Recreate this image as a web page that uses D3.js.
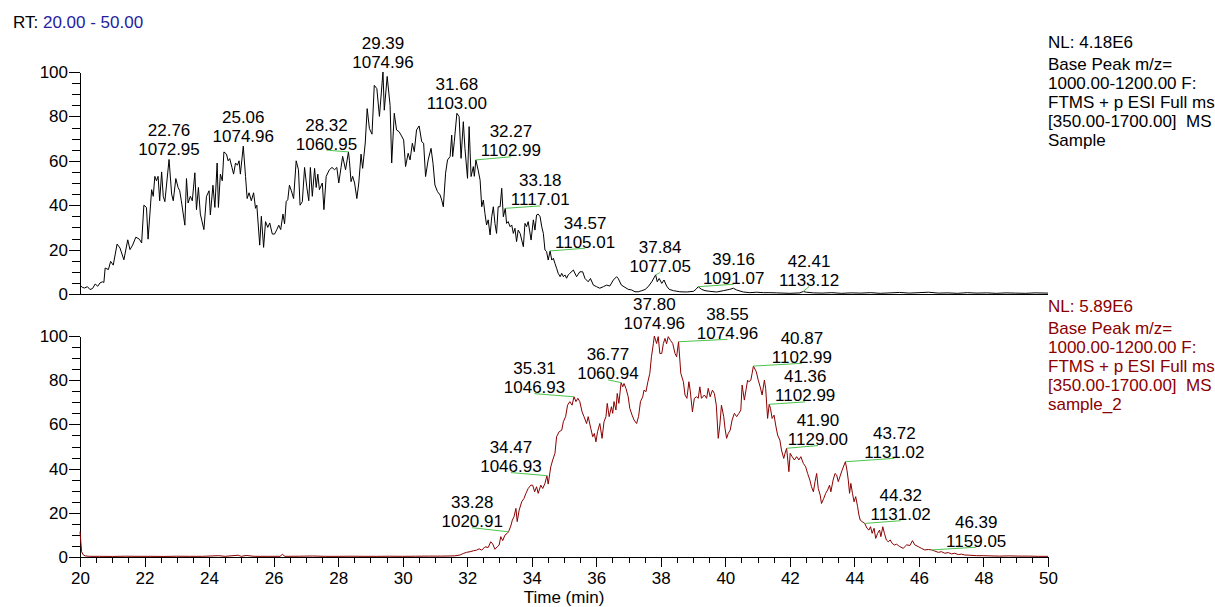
<!DOCTYPE html>
<html>
<head>
<meta charset="utf-8">
<script src="https://cdn.jsdelivr.net/npm/d3@7"></script>
<style>
  html, body { margin: 0; padding: 0; background: #fff; }
  svg { display: block; font-family: "Liberation Sans", Arial, Helvetica, sans-serif; }
  .pre { white-space: pre; }
</style>
</head>
<body>
<svg id="chart" width="1215" height="607"></svg>
<script>
// ---- data -------------------------------------------------------------
const rtRange = [20, 50];
const xMajorTicks = [20, 22, 24, 26, 28, 30, 32, 34, 36, 38, 40, 42, 44, 46, 48, 50];
const yMajorTicks = [0, 20, 40, 60, 80, 100];

// Base peak chromatogram, "Sample": [retention time (min), relative abundance]
const traceSample = [
  [20.00,4],[20.07,3],[20.14,2.7],[20.23,3.3],[20.31,2],[20.39,2.5],[20.47,4.5],[20.55,3.5],
  [20.62,5],[20.70,5.5],[20.74,5.2],[20.78,11.7],[20.88,11],[20.95,14.7],[21.03,13],[21.15,22.5],
  [21.24,20.7],[21.36,15.4],[21.48,24.4],[21.55,20],[21.63,22],[21.73,25.6],[21.84,24.7],[21.91,23],
  [21.98,40],[22.06,39],[22.11,24.7],[22.22,47],[22.27,44],[22.32,53],[22.37,51],[22.42,53],
  [22.47,42],[22.53,55],[22.58,44],[22.63,41.6],[22.76,60.6],[22.84,45],[22.89,42],[22.97,52],
  [23.04,48],[23.09,46.5],[23.14,42],[23.25,31],[23.30,52],[23.35,41],[23.42,44],[23.48,42],
  [23.56,54.6],[23.61,38],[23.67,48],[23.73,36],[23.84,29],[23.92,44],[24.00,46.5],[24.04,35.6],
  [24.12,49],[24.18,39],[24.25,59],[24.29,39],[24.35,54],[24.41,51],[24.46,64],[24.54,63],
  [24.59,60],[24.64,61],[24.71,57],[24.76,54],[24.82,59],[24.88,58],[24.93,60],[24.97,54],
  [25.06,66.6],[25.13,53],[25.18,43],[25.24,45.6],[25.31,42],[25.38,45.6],[25.44,38.6],[25.48,40],
  [25.57,22],[25.62,35],[25.69,21],[25.75,32.6],[25.82,30],[25.88,32],[25.96,27],[26.03,27],
  [26.10,29],[26.16,31],[26.22,29],[26.29,36],[26.34,31.6],[26.39,41.6],[26.44,42.5],[26.49,49],
  [26.55,46.5],[26.62,43],[26.70,60],[26.77,56],[26.82,40],[26.89,41.6],[26.96,57],[27.03,48],
  [27.09,42],[27.14,57],[27.20,44],[27.27,56.6],[27.32,48],[27.37,54],[27.42,47],[27.51,50],
  [27.56,38],[27.63,53],[27.73,56],[27.81,57],[27.89,56],[27.96,57],[28.02,50],[28.09,57],
  [28.14,62],[28.23,56],[28.32,64],[28.35,60],[28.40,50.6],[28.45,53],[28.51,50],[28.58,43],
  [28.64,50],[28.71,63],[28.76,56.6],[28.84,68],[28.90,83.5],[28.97,74.5],[29.05,72],[29.12,94],
  [29.20,92.5],[29.28,80],[29.39,100],[29.43,82.8],[29.52,98],[29.61,85],[29.66,59],[29.74,81.4],
  [29.81,73.9],[29.89,73.1],[29.95,71.6],[30.03,69.4],[30.09,57.4],[30.17,63.4],[30.23,60.4],[30.30,67.9],
  [30.36,64.1],[30.43,73.9],[30.51,75.7],[30.59,68.6],[30.65,67.9],[30.71,52.9],[30.79,60.4],[30.88,65.6],
  [30.94,58.9],[31.00,49.1],[31.08,46.1],[31.16,44.6],[31.21,42.3],[31.26,39.3],[31.33,54.4],[31.39,60.4],
  [31.47,61.9],[31.52,71.6],[31.55,61.9],[31.60,68.6],[31.68,81.4],[31.75,79.9],[31.81,61.1],[31.88,77.6],
  [31.93,65.6],[32.01,52.1],[32.06,75.4],[32.12,52.9],[32.19,57.4],[32.22,53],[32.27,60.4],[32.34,55.8],
  [32.40,51.3],[32.45,39.3],[32.50,42.3],[32.55,36.3],[32.60,31.1],[32.65,33.4],[32.71,26.6],[32.76,34.8],
  [32.81,39.3],[32.86,31.8],[32.91,27.3],[32.96,39.3],[33.02,39.3],[33.07,47.6],[33.12,34.8],[33.18,38.6],
  [33.22,31.8],[33.27,32.6],[33.33,30.3],[33.38,31.1],[33.43,27.3],[33.48,29.6],[33.53,23.6],[33.58,28.8],
  [33.64,27.3],[33.69,24.3],[33.74,21.3],[33.79,31.8],[33.84,30.3],[33.89,32.6],[33.98,24.3],[34.05,33.4],
  [34.10,28.8],[34.15,35.6],[34.20,36],[34.26,34.8],[34.31,30.3],[34.36,27.3],[34.41,19.8],[34.46,19.1],
  [34.51,15.3],[34.57,19.4],[34.62,15.3],[34.67,16.1],[34.72,13.8],[34.77,11.6],[34.82,9.3],[34.88,7.8],
  [34.93,9.3],[34.98,7.8],[35.03,8.6],[35.08,7.1],[35.13,8.6],[35.18,9.3],[35.29,10.8],[35.39,7.8],
  [35.49,10],[35.58,10],[35.65,7],[35.75,5.5],[35.82,7],[35.91,4],[36.01,3.3],[36.11,2.6],
  [36.22,3.3],[36.32,4],[36.42,3.6],[36.53,6.3],[36.63,7.8],[36.68,7],[36.78,4],[36.89,3],
  [36.99,2.1],[37.10,1.8],[37.20,1],[37.30,1],[37.41,1.5],[37.51,2],[37.61,3.3],[37.72,5.5],
  [37.84,8.6],[37.89,5.5],[37.95,7],[38.03,4.8],[38.10,6.3],[38.18,3.6],[38.26,2.1],[38.39,1.5],
  [38.59,1],[38.80,0.9],[39.01,1.2],[39.09,2.1],[39.16,3.3],[39.26,2.1],[39.37,1.5],[39.52,1.2],
  [39.73,0.9],[39.94,1.5],[40.14,2.1],[40.25,2.6],[40.35,1.8],[40.56,0.9],[40.76,0.6],[40.97,0.8],
  [41.18,0.6],[41.38,0.6],[41.59,0.5],[42.00,0.3],[42.31,0.5],[42.41,1.1],[42.52,0.8],[42.73,0.5],
  [43.00,0.4],[43.30,0.6],[43.60,0.3],[43.90,0.5],[44.20,0.4],[44.50,0.6],[44.80,0.3],[45.10,0.5],
  [45.40,0.7],[45.70,0.4],[46.00,0.6],[46.30,0.8],[46.60,0.4],[46.90,0.5],[47.20,0.3],[47.50,0.6],
  [47.80,0.4],[48.10,0.5],[48.40,0.3],[48.70,0.5],[49.00,0.4],[49.30,0.3],[49.60,0.5],[50.00,0.4]
];

// Base peak chromatogram, "sample_2": [retention time (min), relative abundance]
const traceSample2 = [
  [20.00,11.4],[20.05,2.4],[20.10,1],[20.16,0.5],[20.30,0.3],[20.60,0.3],[21.00,0.25],[21.40,0.35],
  [21.80,0.3],[22.20,0.3],[22.60,0.25],[23.00,0.35],[23.40,0.3],[23.80,0.3],[24.30,0.6],[24.50,0.3],
  [24.90,0.8],[25.00,0.3],[25.15,0.7],[25.40,0.3],[25.80,0.3],[26.20,0.3],[26.27,1.2],[26.35,0.3],
  [26.80,0.35],[27.20,0.45],[27.60,0.3],[28.00,0.3],[28.40,0.35],[28.80,0.3],[29.20,0.3],[29.60,0.35],
  [30.00,0.3],[30.40,0.35],[30.80,0.4],[31.20,0.4],[31.60,0.5],[31.78,0.9],[31.88,1.6],[31.98,2.1],
  [32.09,2.4],[32.19,2.8],[32.29,3.1],[32.37,3.7],[32.45,3.1],[32.55,4.6],[32.65,4.3],[32.73,6.9],
  [32.79,5.9],[32.86,3.5],[32.93,4.6],[32.99,5.4],[33.04,9.2],[33.10,7.4],[33.17,9.9],[33.24,10.7],
  [33.28,11.4],[33.35,14],[33.40,16.7],[33.45,18.2],[33.51,22],[33.55,16],[33.61,21.2],[33.69,25],
  [33.76,26.5],[33.82,28.8],[33.89,31],[33.97,32.5],[34.03,32.5],[34.09,29.5],[34.15,31.8],[34.20,28.8],
  [34.28,32.5],[34.34,31],[34.41,33.3],[34.47,36.8],[34.51,33],[34.59,40.8],[34.65,43.9],[34.72,46.9],
  [34.77,54.4],[34.85,56.7],[34.93,57.4],[34.98,61.2],[35.05,63.5],[35.11,68.7],[35.18,70.3],[35.25,68.7],
  [35.31,72.5],[35.37,70.3],[35.43,71.8],[35.49,70.3],[35.56,65.7],[35.62,63.5],[35.70,60.4],[35.75,63.5],
  [35.83,58.2],[35.89,54.4],[35.94,55.9],[35.99,52.1],[36.04,56.7],[36.11,60.4],[36.18,53.7],[36.24,61.2],
  [36.30,63.5],[36.34,69.5],[36.40,63.5],[36.47,68],[36.51,65],[36.55,70.3],[36.61,66.5],[36.65,74],
  [36.70,69.5],[36.77,78.9],[36.82,77],[36.86,78.5],[36.92,76.3],[36.99,72.5],[37.04,67.2],[37.11,64.2],
  [37.17,62],[37.25,60.4],[37.31,63.5],[37.37,70.3],[37.44,72.5],[37.48,75.5],[37.54,74.8],[37.60,79.3],
  [37.66,83.1],[37.71,90.6],[37.77,96.6],[37.80,100],[37.87,96.6],[37.92,99.7],[37.97,92.1],[38.03,92.1],
  [38.08,96.6],[38.13,98.9],[38.18,96.5],[38.23,99.7],[38.30,98],[38.37,96.6],[38.44,92.1],[38.49,90.6],
  [38.55,97.4],[38.62,83.1],[38.70,79.3],[38.75,73.3],[38.81,71.8],[38.87,79.3],[38.91,75.5],[38.98,65.7],
  [39.04,71.8],[39.11,72.5],[39.16,71.8],[39.21,77],[39.26,71.8],[39.35,73.3],[39.42,71.8],[39.47,76.3],
  [39.53,72.5],[39.60,75.5],[39.66,74],[39.72,68.7],[39.78,53.7],[39.83,59.7],[39.88,68.7],[39.95,63.5],
  [39.99,58.2],[40.04,53.7],[40.09,55.9],[40.15,57.4],[40.21,62],[40.28,65],[40.35,63.5],[40.42,65],
  [40.48,66.5],[40.52,77.8],[40.59,71],[40.64,75.5],[40.69,80],[40.73,79.3],[40.79,80],[40.83,83.1],
  [40.87,86.4],[40.96,83.8],[41.02,80],[41.08,77],[41.14,73.3],[41.21,80],[41.25,76.3],[41.31,62.7],
  [41.36,69.1],[41.40,67.2],[41.45,62.7],[41.51,64.2],[41.56,59.7],[41.62,55.2],[41.69,52.9],[41.74,48.4],
  [41.81,44.6],[41.85,46.9],[41.90,49.2],[41.97,38.6],[42.01,46.9],[42.07,45.4],[42.14,43.9],[42.21,45.4],
  [42.28,43.9],[42.34,45.4],[42.42,42.3],[42.49,40.8],[42.55,37.8],[42.62,34.8],[42.67,31.8],[42.73,29.5],
  [42.78,34.1],[42.83,37.8],[42.88,31],[42.94,28],[42.98,24.2],[43.05,26.5],[43.11,28.8],[43.17,30.3],
  [43.23,32.5],[43.27,29.5],[43.34,34.8],[43.40,37.8],[43.45,37.1],[43.50,34.1],[43.55,36.3],[43.62,39.3],
  [43.72,43.1],[43.77,39.3],[43.81,34.8],[43.85,28.8],[43.89,33.3],[43.94,28.8],[43.99,25],[44.04,27.3],
  [44.10,22.7],[44.14,19],[44.18,16.7],[44.24,16],[44.32,15.2],[44.39,13],[44.45,12.2],[44.50,13.7],
  [44.55,10.7],[44.61,13],[44.66,8.4],[44.72,10.7],[44.78,12.2],[44.82,9.2],[44.88,13.7],[44.93,10.7],
  [44.99,7.7],[45.05,6.9],[45.11,7.7],[45.17,6.2],[45.24,5.4],[45.30,5.8],[45.36,5.2],[45.41,4.7],
  [45.51,3.9],[45.62,5.5],[45.72,5.2],[45.80,7.4],[45.87,5.5],[45.98,4.7],[46.08,3.9],[46.18,3.2],
  [46.29,3.4],[46.39,3.2],[46.49,2.7],[46.60,2.1],[46.70,2.4],[46.80,1.7],[46.91,2],[47.01,1.4],
  [47.11,1.7],[47.22,1.1],[47.32,1.3],[47.42,0.9],[47.58,0.8],[47.79,0.6],[47.99,0.6],[48.20,0.5],
  [48.50,0.4],[48.80,0.5],[49.10,0.4],[49.40,0.4],[49.70,0.3],[50.00,0.3]
];

// Labelled peaks: [retention time, base peak m/z]
const peaksSample = [
  [22.76,"1072.95"],[25.06,"1074.96"],[28.32,"1060.95"],[29.39,"1074.96"],[31.68,"1103.00"],
  [32.27,"1102.99"],[33.18,"1117.01"],[34.57,"1105.01"],[37.84,"1077.05"],[39.16,"1091.07"],
  [42.41,"1133.12"]
];
const peaksSample2 = [
  [33.28,"1020.91"],[34.47,"1046.93"],[35.31,"1046.93"],[36.77,"1060.94"],[37.80,"1074.96"],
  [38.55,"1074.96"],[40.87,"1102.99"],[41.36,"1102.99"],[41.90,"1129.00"],[43.72,"1131.02"],
  [44.32,"1131.02"],[46.39,"1159.05"]
];

// Header text for each trace
const infoSample  = ["NL: 4.18E6", "Base Peak m/z=", "1000.00-1200.00 F:", "FTMS + p ESI Full ms", "[350.00-1700.00]  MS", "Sample"];
const infoSample2 = ["NL: 5.89E6", "Base Peak m/z=", "1000.00-1200.00 F:", "FTMS + p ESI Full ms", "[350.00-1700.00]  MS", "sample_2"];

// ---- layout -------------------------------------------------------------
// Label placement: pixel offset of the label (centre x, baseline y) from its peak apex
const labelShiftSample = [
  [0,-4],[0,-4.3],[-22,-2.3],[0,-4.2],[0,-3.9],[35,-3.6],[35,-2.9],[35,-3.2],[4.5,-2.9],[35.4,-2.9],[6,-5.6]
];
const labelShiftSample2 = [
  [-36.3,-4.6],[-36,-3.6],[-39.5,-3.6],[-13.2,-3.3],[0,-6.6],[49,-2.9],[48.5,-3.2],[36,-2.9],[31.3,-3.2],[49,-3.9],[36,-3.2],[44.7,-3.2]
];

const W = 1215, H = 607;
const plotLeft = 80, plotRight = 1048;
const FONT = 17;
const svg = d3.select("#chart");

const x = d3.scaleLinear().domain(rtRange).range([plotLeft, plotRight]);
const minorX = d3.range(rtRange[0], rtRange[1] + 0.001, 0.5).filter(v => Math.abs(v / 2 - Math.round(v / 2)) > 1e-6);
const minorY = d3.range(0, 101, 5).filter(v => v % 20 !== 0);

function drawPanel(cfg) {
  const y = d3.scaleLinear().domain([0, 100]).range([cfg.bottom, cfg.top]);
  const g = svg.append("g");

  // y axis: minor ticks then major ticks with labels
  g.append("g")
    .attr("transform", `translate(${plotLeft},0)`)
    .call(d3.axisLeft(y).tickValues(minorY).tickSize(8).tickFormat(""))
    .call(s => s.select(".domain").remove());
  g.append("g")
    .attr("transform", `translate(${plotLeft},0)`)
    .call(d3.axisLeft(y).tickValues(yMajorTicks).tickSize(11).tickSizeOuter(0).tickPadding(1))
    .call(s => s.selectAll("text").attr("font-size", FONT).attr("fill", "#000").attr("font-family", "Liberation Sans, Arial, sans-serif"));

  // baseline of the panel
  if (cfg.timeAxis) {
    g.append("g")
      .attr("transform", `translate(0,${cfg.bottom})`)
      .call(d3.axisBottom(x).tickValues(minorX).tickSize(6).tickFormat(""))
      .call(s => s.select(".domain").remove());
    g.append("g")
      .attr("transform", `translate(0,${cfg.bottom})`)
      .call(d3.axisBottom(x).tickValues(xMajorTicks).tickSize(10).tickSizeOuter(0).tickPadding(5).tickFormat(d3.format("d")))
      .call(s => s.selectAll("text").attr("font-size", FONT).attr("fill", "#000").attr("font-family", "Liberation Sans, Arial, sans-serif"));
  } else {
    g.append("line")
      .attr("x1", plotLeft).attr("x2", plotRight)
      .attr("y1", cfg.bottom + 0.5).attr("y2", cfg.bottom + 0.5)
      .attr("stroke", "#000").attr("stroke-width", 1);
  }
  g.selectAll(".tick line, .domain").attr("stroke", "#000").attr("shape-rendering", "crispEdges");

  // chromatogram trace
  const line = d3.line().x(d => x(d[0])).y(d => y(d[1]));
  g.append("path")
    .datum(cfg.trace)
    .attr("d", line)
    .attr("fill", "none")
    .attr("stroke", cfg.color)
    .attr("stroke-width", 1)
    .attr("stroke-linejoin", "round");

  // peak annotations
  const lookup = t => {
    let best = cfg.trace[0];
    for (const p of cfg.trace) if (Math.abs(p[0] - t) < Math.abs(best[0] - t)) best = p;
    return best;
  };
  cfg.peaks.forEach((pk, i) => {
    const apex = lookup(pk[0]);
    const px = x(pk[0]), py = y(apex[1]);
    const [dx, dy] = cfg.shifts[i];
    const lx = px + dx, ly = py + dy;
    if (dx !== 0) {
      g.append("line")
        .attr("x1", px).attr("y1", py)
        .attr("x2", lx).attr("y2", ly + 0.5)
        .attr("stroke", "#4cc24c").attr("stroke-width", 1);
    }
    const t = g.append("text")
      .attr("font-size", FONT).attr("text-anchor", "middle").attr("fill", "#000");
    t.append("tspan").attr("x", lx).attr("y", ly - 19).text(pk[0].toFixed(2));
    t.append("tspan").attr("x", lx).attr("y", ly).text(pk[1]);
  });

  // header block at the right
  const info = g.append("g").attr("fill", cfg.textColor).attr("font-size", FONT);
  cfg.info.forEach((s, i) => {
    info.append("text")
      .attr("class", "pre")
      .attr("x", plotRight)
      .attr("y", i === 0 ? cfg.top - 24.3 : cfg.top - 2 + 19.1 * (i - 1))
      .text(s);
  });
}

// retention time window
const rt = svg.append("text").attr("x", 13).attr("y", 28).attr("font-size", FONT).attr("class", "pre");
rt.append("tspan").attr("fill", "#000").text("RT: ");
rt.append("tspan").attr("fill", "#1e22a0").text(`${rtRange[0].toFixed(2)} - ${rtRange[1].toFixed(2)}`);

drawPanel({ top: 72, bottom: 294, trace: traceSample, peaks: peaksSample, shifts: labelShiftSample,
            color: "#000", textColor: "#000", info: infoSample, timeAxis: false });
drawPanel({ top: 336, bottom: 557, trace: traceSample2, peaks: peaksSample2, shifts: labelShiftSample2,
            color: "#8b0000", textColor: "#8b0000", info: infoSample2, timeAxis: true });

svg.append("text")
  .attr("x", (plotLeft + plotRight) / 2).attr("y", 603)
  .attr("text-anchor", "middle").attr("font-size", FONT).attr("fill", "#000")
  .text("Time (min)");
</script>
</body>
</html>
